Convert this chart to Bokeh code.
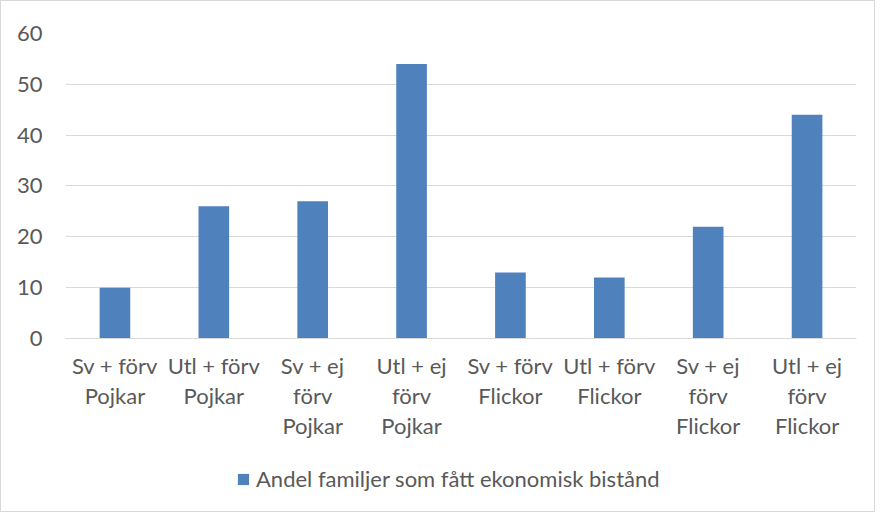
from bokeh.plotting import figure
from bokeh.models import ColumnDataSource, Legend, LegendItem, FactorRange, Range1d
from bokeh.embed import file_html
from bokeh.resources import INLINE

categories = ["Sv + förv\nPojkar", "Utl + förv\nPojkar", "Sv + ej\nförv\nPojkar", "Utl + ej\nförv\nPojkar",
              "Sv + förv\nFlickor", "Utl + förv\nFlickor", "Sv + ej\nförv\nFlickor", "Utl + ej\nförv\nFlickor"]
values = [10, 26, 27, 54, 13, 12, 22, 44]
series_name = "Andel familjer som fått ekonomisk bistånd"
y_ticks = [0, 10, 20, 30, 40, 50, 60]

FONT = "Lato"
TXT = "#595959"
GRID = "#d9d9d9"
BLUE = "#4F81BD"

src = ColumnDataSource(dict(cat=categories, val=values))

# frame spans from top of value axis down to the figure bottom; the category
# axis sits at value 0 inside the frame, leaving room for labels and legend
p = figure(x_range=FactorRange(factors=categories, range_padding=0),
           y_range=Range1d(-34.43, 60),
           width=875, height=512,
           output_backend="svg", toolbar_location=None,
           min_border_left=64, min_border_right=20, min_border_top=32, min_border_bottom=0)
p.styles = {"border": "1px solid #d9d9d9", "box-sizing": "border-box"}

r = p.vbar(x="cat", top="val", width=0.31, source=src, fill_color=BLUE, line_color=None)

p.outline_line_color = None
p.xgrid.grid_line_color = None
p.ygrid.grid_line_color = GRID
p.ygrid.grid_line_width = 1
p.yaxis.ticker = y_ticks
p.yaxis.axis_line_color = None
p.yaxis.major_tick_line_color = None
p.yaxis.minor_tick_line_color = None
p.yaxis.major_label_text_font = FONT
p.yaxis.major_label_text_font_size = "22px"
p.yaxis.major_label_text_color = TXT
p.yaxis.major_label_standoff = 17

p.xaxis.fixed_location = 0
p.xaxis.axis_line_color = GRID
p.xaxis.major_tick_line_color = None
p.xaxis.minor_tick_line_color = None
p.xaxis.major_label_text_font = FONT
p.xaxis.major_label_text_font_size = "22px"
p.xaxis.major_label_text_color = TXT
p.xaxis.major_label_standoff = 8
p.xaxis.major_label_text_line_height = 1.1

legend = Legend(items=[LegendItem(label=series_name, renderers=[r])],
                orientation="horizontal", location=(171, 21),
                label_text_font=FONT, label_text_font_size="22px", label_text_color=TXT,
                glyph_width=14, glyph_height=14, border_line_color=None,
                background_fill_alpha=0,
                margin=0, padding=6, label_standoff=6)
p.add_layout(legend, "center")

open("out.html", "w").write(file_html(p, INLINE))
